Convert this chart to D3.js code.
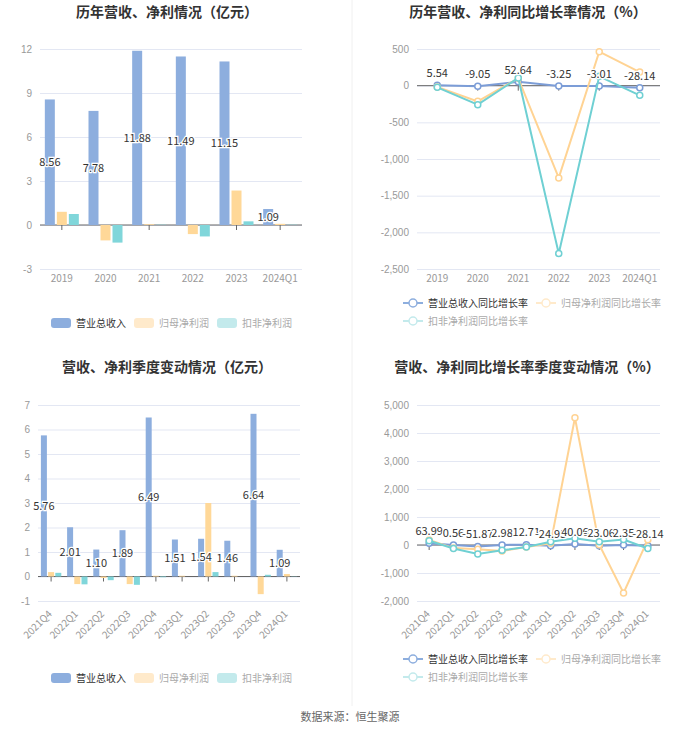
<!DOCTYPE html>
<html>
<head>
<meta charset="utf-8">
<script src="https://cdn.jsdelivr.net/npm/d3@7"></script>
<style>
  body { margin: 0; background: #fff; }
  svg { font-family: "Noto Sans CJK SC", "Noto Sans", sans-serif; }
</style>
</head>
<body>
<svg id="chart" width="700" height="734"></svg>
<script>
// yearly data (亿元 / %)
const yearCats = ['2019', '2020', '2021', '2022', '2023', '2024Q1'];
const yearRevenue = [8.56, 7.78, 11.88, 11.49, 11.15, 1.09];
const yearNetProfit = [0.9, -1.05, 0.05, -0.62, 2.35, 0.08];
const yearDeductProfit = [0.75, -1.2, 0.02, -0.78, 0.25, 0.02];
const yearRevenueYoy = [5.54, -9.05, 52.64, -3.25, -3.01, -28.14];
const yearNetProfitYoy = [-18, -214, 100, -1258, 463, 185];
const yearDeductYoy = [-23, -259, 105, -2289, 127, -132];

// quarterly data
const quarterCats = ['2021Q4', '2022Q1', '2022Q2', '2022Q3', '2022Q4', '2023Q1', '2023Q2', '2023Q3', '2023Q4', '2024Q1'];
const quarterRevenue = [5.76, 2.01, 1.10, 1.89, 6.49, 1.51, 1.54, 1.46, 6.64, 1.09];
const quarterNetProfit = [0.18, -0.31, -0.06, -0.31, 0.03, 0.03, 3.0, 0.03, -0.72, 0.1];
const quarterDeductProfit = [0.15, -0.32, -0.15, -0.34, -0.03, 0, 0.18, 0, 0.07, 0.01];
const quarterRevenueYoy = [63.99, 0.56, -51.87, 2.98, 12.71, -24.95, 40.06, -23.06, 2.35, -28.14];
const quarterNetProfitYoy = [180, -110, -155, -215, -70, 60, 4546, 10, -1710, 190];
const quarterDeductYoy = [150, -125, -320, -190, -75, 115, 240, 115, 195, -125];

const barNames = ['营业总收入', '归母净利润', '扣非净利润'];
const lineNames = ['营业总收入同比增长率', '归母净利润同比增长率', '扣非净利润同比增长率'];

const barColors = ['#8daede', '#ffd898', '#80d6da'];
const lineColors = ['#7c9dd7', '#ffd393', '#6fd0d3'];
const fadedColors = ['#8daede', '#ffeacb', '#c3eaec'];
const legendText = ['#333', '#aaa', '#aaa'];

const svg = d3.select('#chart');
const locale = d3.formatLocale({ decimal: '.', thousands: ',', grouping: [3], currency: ['', ''], minus: '-' });
const fmt = locale.format(',');
const fmt2 = locale.format('.2f');

// divider between the columns
svg.append('line')
  .attr('x1', 352).attr('x2', 352).attr('y1', 0).attr('y2', 706)
  .attr('stroke', '#f0f0f0');

function title(x, y, txt) {
  svg.append('text')
    .attr('x', x).attr('y', y)
    .attr('text-anchor', 'middle')
    .attr('font-size', '14px')
    .attr('font-weight', 'bold')
    .attr('fill', '#333')
    .text(txt);
}

function drawFrame(cfg) {
  const { cats, x0, x1, domain, yTop, yBottom, ticks, rotate } = cfg;
  const x = d3.scaleBand().domain(cats).range([x0, x1]);
  const y = d3.scaleLinear().domain(domain).range([yBottom, yTop]);
  const g = svg.append('g');

  // gridlines + y labels
  const yAxis = g.append('g')
    .attr('transform', `translate(${x0},0)`)
    .call(d3.axisLeft(y).tickValues(ticks).tickSize(-(x1 - x0)).tickPadding(8).tickFormat(fmt));
  yAxis.select('.domain').remove();
  yAxis.selectAll('line').attr('stroke', '#e3e7f3');
  yAxis.selectAll('text').attr('fill', '#999').attr('font-size', '10px');

  // zero line with ticks
  g.append('line')
    .attr('x1', x0).attr('x2', x1).attr('y1', y(0)).attr('y2', y(0))
    .attr('stroke', '#666');
  g.selectAll('.tk').data(cats).join('line')
    .attr('x1', d => x(d) + x.bandwidth() / 2).attr('x2', d => x(d) + x.bandwidth() / 2)
    .attr('y1', y(0)).attr('y2', y(0) + 5)
    .attr('stroke', '#666');

  // category labels
  const labels = g.selectAll('.cat').data(cats).join('text')
    .attr('fill', '#999').attr('font-size', '10px');
  if (rotate) {
    labels
      .attr('transform', d => `translate(${x(d) + x.bandwidth() / 2 - 1},${yBottom + 11}) rotate(-45)`)
      .attr('text-anchor', 'end').attr('dy', '0.35em')
      .text(d => d);
  } else {
    labels
      .attr('x', d => x(d) + x.bandwidth() / 2).attr('y', yBottom + 9)
      .attr('text-anchor', 'middle').attr('dy', '0.35em')
      .text(d => d);
  }
  return { x, y, g };
}

function barChart(cfg, series, barW, gap) {
  const { x, y, g } = drawFrame(cfg);
  const groupW = series.length * barW + (series.length - 1) * gap;
  const off = (x.bandwidth() - groupW) / 2;
  series.forEach((vals, i) => {
    g.append('g').selectAll('rect').data(vals).join('rect')
      .attr('x', (d, j) => x(cfg.cats[j]) + off + i * (barW + gap))
      .attr('y', d => y(Math.max(0, d)))
      .attr('width', barW)
      .attr('height', d => Math.abs(y(d) - y(0)))
      .attr('fill', barColors[i]);
  });
  // value labels on revenue bars
  g.append('g').selectAll('text').data(series[0]).join('text')
    .attr('x', (d, j) => x(cfg.cats[j]) + off + barW / 2)
    .attr('y', d => (y(d) + y(0)) / 2)
    .attr('dy', '0.35em')
    .attr('text-anchor', 'middle')
    .attr('font-size', '11px')
    .attr('fill', '#333')
    .attr('stroke', '#fff').attr('stroke-width', 2.5)
    .attr('paint-order', 'stroke')
    .text(d => fmt2(d));
}

function lineChart(cfg, series) {
  const { x, y, g } = drawFrame(cfg);
  const cx = (d, j) => x(cfg.cats[j]) + x.bandwidth() / 2;
  series.forEach((vals, i) => {
    const line = d3.line().x((d, j) => cx(d, j)).y(d => y(d));
    g.append('path').datum(vals)
      .attr('d', line)
      .attr('fill', 'none')
      .attr('stroke', lineColors[i])
      .attr('stroke-width', 2);
    g.append('g').selectAll('circle').data(vals).join('circle')
      .attr('cx', cx).attr('cy', d => y(d)).attr('r', 3)
      .attr('fill', '#fff').attr('stroke', lineColors[i]).attr('stroke-width', 1.5);
  });
  g.append('g').selectAll('text').data(series[0]).join('text')
    .attr('x', cx).attr('y', d => y(d) - 12)
    .attr('dy', '0.35em')
    .attr('text-anchor', 'middle')
    .attr('font-size', '11px')
    .attr('fill', '#333')
    .attr('stroke', '#fff').attr('stroke-width', 2.5)
    .attr('paint-order', 'stroke')
    .text(d => fmt2(d));
}

function barLegend(xs, y) {
  barNames.forEach((n, i) => {
    svg.append('rect')
      .attr('x', xs[i]).attr('y', y - 5).attr('width', 20).attr('height', 10)
      .attr('rx', 3).attr('fill', fadedColors[i]);
    svg.append('text')
      .attr('x', xs[i] + 25).attr('y', y).attr('dy', '0.35em')
      .attr('font-size', '10px').attr('fill', legendText[i]).text(n);
  });
}

function lineLegend(pos) {
  lineNames.forEach((n, i) => {
    const [lx, ly] = pos[i];
    svg.append('line')
      .attr('x1', lx).attr('x2', lx + 20).attr('y1', ly).attr('y2', ly)
      .attr('stroke', fadedColors[i]).attr('stroke-width', 2);
    svg.append('circle')
      .attr('cx', lx + 10).attr('cy', ly).attr('r', 4)
      .attr('fill', '#fff').attr('stroke', fadedColors[i]).attr('stroke-width', 1.5);
    svg.append('text')
      .attr('x', lx + 25).attr('y', ly).attr('dy', '0.35em')
      .attr('font-size', '10px').attr('fill', legendText[i]).text(n);
  });
}

// top left
title(167, 17, '历年营收、净利情况（亿元）');
barChart({
  cats: yearCats, x0: 40, x1: 302, domain: [-3, 12], yTop: 49, yBottom: 269,
  ticks: [-3, 0, 3, 6, 9, 12]
}, [yearRevenue, yearNetProfit, yearDeductProfit], 10, 2);
barLegend([51, 134, 217], 323);

// top right
title(528, 17, '历年营收、净利同比增长率情况（%）');
lineChart({
  cats: yearCats, x0: 417, x1: 660, domain: [-2500, 500], yTop: 49, yBottom: 269,
  ticks: [-2500, -2000, -1500, -1000, -500, 0, 500]
}, [yearRevenueYoy, yearNetProfitYoy, yearDeductYoy]);
lineLegend([[403, 303], [536, 303], [403, 321]]);

// bottom left
title(167, 372, '营收、净利季度变动情况（亿元）');
barChart({
  cats: quarterCats, x0: 38, x1: 300, domain: [-1, 7], yTop: 405, yBottom: 601,
  ticks: [-1, 0, 1, 2, 3, 4, 5, 6, 7], rotate: true
}, [quarterRevenue, quarterNetProfit, quarterDeductProfit], 6, 1.2);
barLegend([51, 134, 217], 678);

// bottom right
title(527, 372, '营收、净利同比增长率季度变动情况（%）');
lineChart({
  cats: quarterCats, x0: 417, x1: 660, domain: [-2000, 5000], yTop: 405, yBottom: 601,
  ticks: [-2000, -1000, 0, 1000, 2000, 3000, 4000, 5000], rotate: true
}, [quarterRevenueYoy, quarterNetProfitYoy, quarterDeductYoy]);
lineLegend([[403, 659], [536, 659], [403, 677]]);

svg.append('text')
  .attr('x', 350).attr('y', 717).attr('dy', '0.35em')
  .attr('text-anchor', 'middle')
  .attr('font-size', '11px').attr('fill', '#666')
  .text('数据来源：恒生聚源');
</script>
</body>
</html>
